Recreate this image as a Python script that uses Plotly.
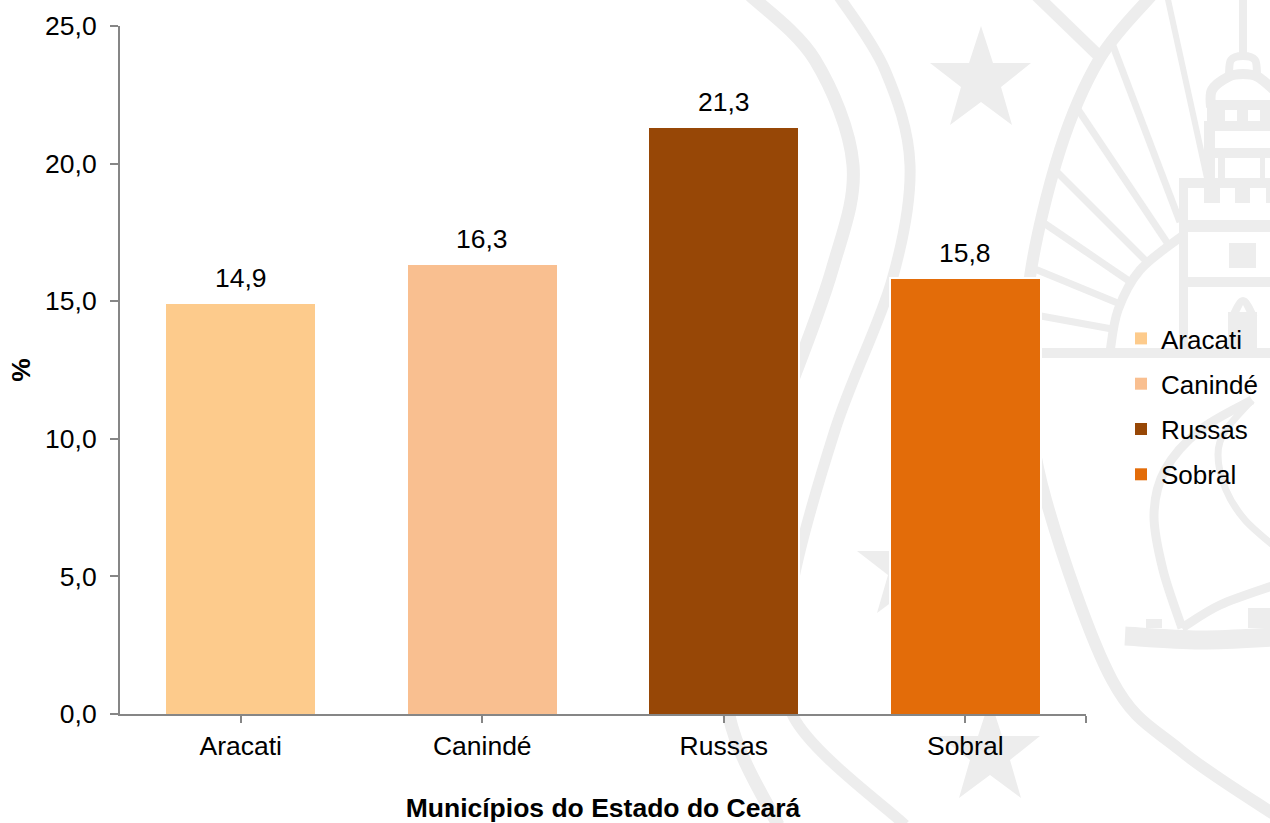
import plotly.graph_objects as go

municipios = ["Aracati", "Canindé", "Russas", "Sobral"]
percentuais = [14.9, 16.3, 21.3, 15.8]
cores = ["#FDCB8C", "#F9BF90", "#974706", "#E36C09"]
y_ticks = [0, 5, 10, 15, 20, 25]

FONT = "Liberation Sans"
SIZE = 26.5
TEXT = "#000000"
AXIS = "#868686"
MARK = "#EDEDED"

# Plot rectangle on the page, in pixels
LEFT, RIGHT, TOP, BOTTOM = 120, 1086, 26, 714


def px(x):
    return (x - LEFT) / (RIGHT - LEFT)


def py(y):
    return (BOTTOM - y) / (BOTTOM - TOP)


def curve(points, width):
    """Smooth stroked path through page points (Catmull-Rom to cubic)."""
    pts = [points[0]] + list(points) + [points[-1]]
    d = f"M{px(points[0][0])},{py(points[0][1])}"
    for i in range(1, len(pts) - 2):
        p0, p1, p2, p3 = pts[i - 1], pts[i], pts[i + 1], pts[i + 2]
        c1 = (p1[0] + (p2[0] - p0[0]) / 6, p1[1] + (p2[1] - p0[1]) / 6)
        c2 = (p2[0] - (p3[0] - p1[0]) / 6, p2[1] - (p3[1] - p1[1]) / 6)
        d += (f" C{px(c1[0])},{py(c1[1])} {px(c2[0])},{py(c2[1])} "
              f"{px(p2[0])},{py(p2[1])}")
    return dict(type="path", xref="paper", yref="paper", path=d, layer="below",
                line=dict(color=MARK, width=width))


def polygon(points, fill=MARK):
    d = "M" + " L".join(f"{px(x)},{py(y)}" for x, y in points) + " Z"
    return dict(type="path", xref="paper", yref="paper", path=d, layer="below",
                fillcolor=fill, line=dict(width=0))


def block(x0, y0, x1, y1, fill=MARK):
    return polygon([(x0, y0), (x1, y0), (x1, y1), (x0, y1)], fill)


def star(dx, dy):
    outline = [(981, 26), (993, 63), (1031, 63), (1001, 87), (1012, 125),
               (981, 102), (950, 125), (961, 87), (930, 63), (969, 63)]
    return polygon([(x + dx, y + dy) for x, y in outline])


# Institutional emblem printed faintly behind the chart
emblem = [
    star(0, 0), star(-73, 488), star(9, 673),
    # wavy ribbons
    curve([(750, -5), (815, 60), (853, 165), (832, 270), (785, 400), (720, 560),
           (729, 716), (778, 825)], 13),
    curve([(838, -5), (885, 70), (910, 165), (892, 280), (835, 430), (790, 600),
           (793, 716), (905, 825)], 11),
    # large arc and its inner arc
    curve([(1152, -5), (1100, 58), (1060, 150), (1030, 277), (1027, 380),
           (1046, 500), (1112, 680), (1180, 750), (1275, 815)], 12),
    curve([(1182, 236), (1140, 270), (1118, 310), (1110, 352)], 9),
    # rays
    curve([(1036, -5), (1100, 57)], 12),
    curve([(1110, 38), (1180, 222)], 7),
    curve([(1075, 105), (1170, 247)], 7),
    curve([(1052, 167), (1149, 264)], 7),
    curve([(1038, 219), (1132, 283)], 7),
    curve([(1030, 267), (1120, 304)], 7),
    curve([(1030, 314), (1112, 329)], 7),
    curve([(1167, -5), (1207, 178)], 6),
    # lighthouse
    block(1239, 0, 1247, 54),
    curve([(1229, 75), (1231, 60), (1243, 56), (1255, 60), (1257, 75)], 8),
    curve([(1211, 108), (1212, 90), (1228, 77), (1243, 74), (1258, 77), (1274, 90)], 10),
    block(1207, 100, 1270, 131),
    block(1225, 110, 1237, 121, "#FFFFFF"),
    block(1248, 110, 1260, 121, "#FFFFFF"),
    block(1204, 121, 1215, 180),
    block(1215, 148, 1270, 158),
    block(1218, 158, 1225, 180),
    block(1260, 158, 1265, 180),
    block(1179, 178, 1270, 188),
    block(1204, 188, 1220, 203),
    block(1235, 188, 1250, 203),
    block(1266, 188, 1270, 203),
    block(1179, 178, 1188, 358),
    block(1188, 220, 1270, 232),
    block(1229, 243, 1256, 268),
    block(1188, 277, 1270, 287),
    block(1228, 312, 1257, 350),
    curve([(1232, 318), (1243, 301), (1254, 318)], 8),
    block(1040, 348, 1270, 358),
    # boat, hull and sail
    curve([(1252, 400), (1200, 430), (1165, 470), (1154, 515), (1163, 570), (1182, 628)], 9),
    curve([(1252, 400), (1226, 430), (1218, 455), (1226, 490), (1245, 520), (1275, 547)], 7),
    curve([(1182, 628), (1220, 605), (1275, 585)], 9),
    curve([(1125, 636), (1200, 640), (1275, 637)], 19),
    block(1146, 619, 1162, 628),
    block(1248, 608, 1270, 628),
]

fig = go.Figure()
# White surround that keeps the emblem clear of the bars
fig.add_bar(
    x=municipios, y=percentuais, width=0.617, showlegend=False, hoverinfo="skip",
    marker=dict(color="#FFFFFF", line=dict(color="#FFFFFF", width=4)),
)
for nome, valor, cor in zip(municipios, percentuais, cores):
    fig.add_bar(
        x=[nome], y=[valor], name=nome, legendgroup=nome, width=0.617,
        marker=dict(color=cor, line=dict(width=0)), hoverinfo="skip",
    )

value_labels = [
    dict(x=nome, y=valor, text=f"{valor:.1f}".replace(".", ","), showarrow=False,
         yanchor="bottom", yshift=9, font=dict(family=FONT, size=SIZE, color=TEXT))
    for nome, valor in zip(municipios, percentuais)
]

fig.update_layout(
    width=1270, height=823, autosize=False,
    margin=dict(l=LEFT, r=1270 - RIGHT, t=TOP, b=823 - BOTTOM, autoexpand=False),
    paper_bgcolor="#FFFFFF", plot_bgcolor="rgba(0,0,0,0)",
    separators=",.", barmode="overlay", bargap=0,
    font=dict(family=FONT, size=SIZE, color=TEXT),
    shapes=emblem, annotations=value_labels,
    legend=dict(
        x=px(1121), y=py(315), xanchor="left", yanchor="top",
        bgcolor="rgba(0,0,0,0)", font=dict(family=FONT, size=26, color=TEXT),
        traceorder="grouped", tracegroupgap=8.5, itemclick=False, itemdoubleclick=False,
    ),
    xaxis=dict(
        type="category", categoryorder="array", categoryarray=municipios,
        range=[-0.5, 3.5], tickmode="array",
        tickvals=municipios + [3.5], ticktext=municipios + [""],
        showgrid=False, zeroline=False, showline=True,
        linecolor=AXIS, linewidth=2, ticks="outside", ticklen=7, tickwidth=2,
        tickcolor=AXIS, ticklabelstandoff=0,
        tickfont=dict(family=FONT, size=SIZE, color=TEXT),
        title=dict(text="<b>Municípios do Estado do Ceará</b>", standoff=40,
                   font=dict(family=FONT, size=SIZE, color=TEXT)),
    ),
    yaxis=dict(
        range=[0, 25], tickmode="array", tickvals=y_ticks, tickformat=".1f",
        showgrid=False, zeroline=False, showline=True,
        linecolor=AXIS, linewidth=2, ticks="outside", ticklen=8, tickwidth=2,
        tickcolor=AXIS, ticklabelstandoff=8,
        tickfont=dict(family=FONT, size=SIZE, color=TEXT),
        title=dict(text="<b>%</b>", standoff=7,
                   font=dict(family=FONT, size=SIZE, color=TEXT)),
    ),
)

fig.write_html("out.html")
